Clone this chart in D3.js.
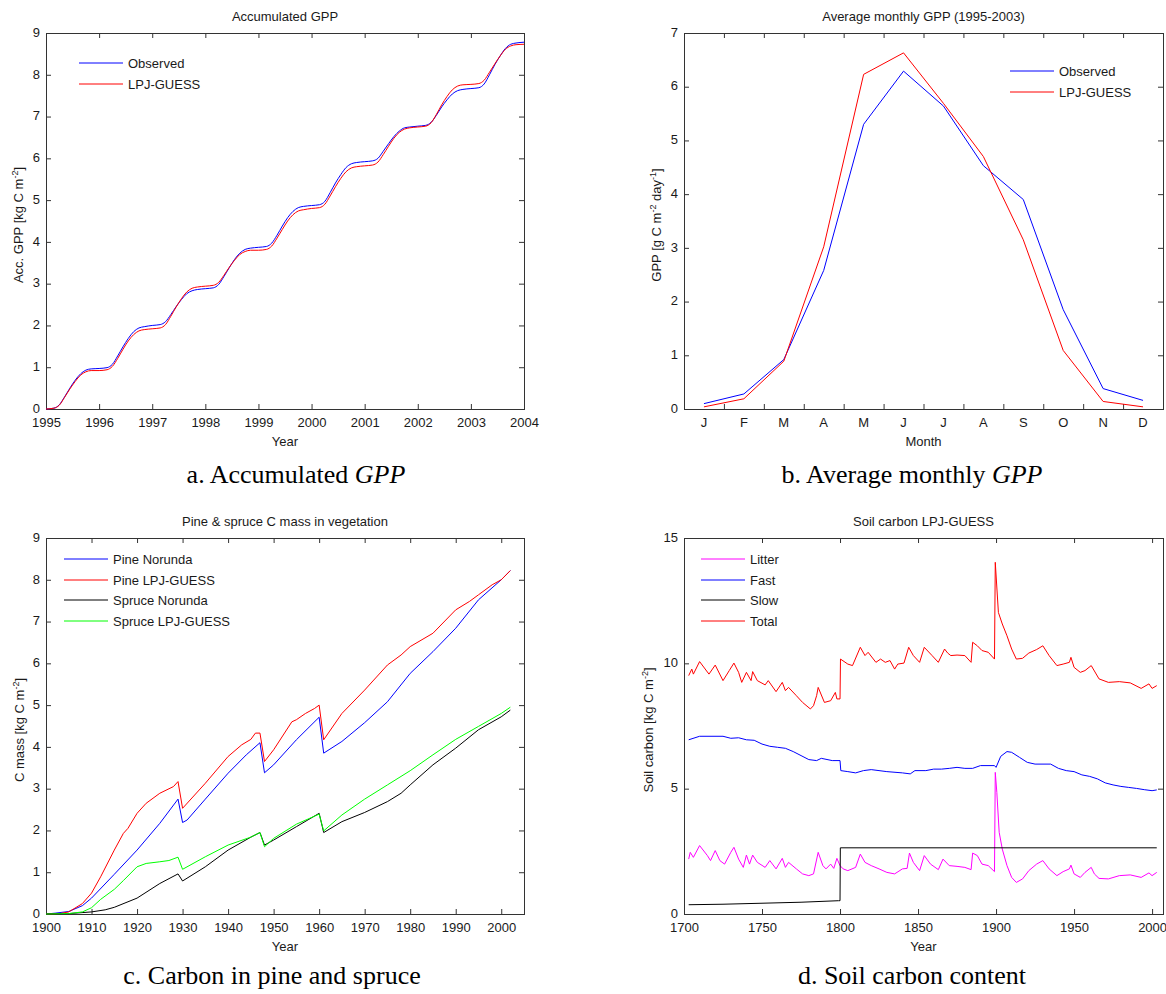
<!DOCTYPE html>
<html><head><meta charset="utf-8">
<script src="https://cdn.jsdelivr.net/npm/d3@7"></script>
<style>
html,body{margin:0;padding:0;background:#fff;}
svg text{font-family:"Liberation Sans",Arial,sans-serif;fill:#1a1a1a;}
svg text.cap{font-family:"Liberation Serif","Times New Roman",serif;fill:#000;}
</style></head>
<body>
<svg id="chart" width="1166" height="994"></svg>
<script>
// ---------- Panel a: Accumulated GPP ----------
const gppYears = [1995,1996,1997,1998,1999,2000,2001,2002,2003];
const gppOffsets = [0,0.15,0.25,0.35,0.45,0.55,0.65,0.75,0.85];
const gppObserved = [
  [0,0.02,0.10,0.29,0.50,0.69,0.84,0.93,0.96],
  [0.97,0.99,1.07,1.27,1.49,1.69,1.85,1.94,1.97],
  [2.0,2.02,2.09,2.26,2.45,2.62,2.76,2.83,2.86],
  [2.88,2.90,2.98,3.17,3.38,3.58,3.73,3.82,3.85],
  [3.87,3.89,3.97,4.16,4.38,4.58,4.73,4.82,4.85],
  [4.87,4.89,4.97,5.18,5.41,5.61,5.78,5.87,5.90],
  [5.92,5.94,6.0,6.17,6.35,6.52,6.65,6.73,6.75],
  [6.77,6.79,6.86,7.03,7.23,7.40,7.54,7.62,7.65],
  [7.67,7.69,7.78,8.0,8.24,8.45,8.63,8.73,8.76]
];
const gppObservedEnd = [2004, 8.78];
const gppModel = [
  [0,0.02,0.09,0.28,0.48,0.66,0.81,0.89,0.92],
  [0.92,0.94,1.02,1.21,1.43,1.63,1.78,1.87,1.90],
  [1.92,1.94,2.02,2.22,2.44,2.64,2.80,2.89,2.92],
  [2.94,2.96,3.03,3.20,3.39,3.56,3.70,3.77,3.80],
  [3.80,3.82,3.90,4.09,4.30,4.50,4.65,4.74,4.77],
  [4.80,4.82,4.90,5.10,5.32,5.52,5.68,5.77,5.80],
  [5.82,5.84,5.91,6.09,6.29,6.48,6.62,6.70,6.73],
  [6.75,6.77,6.85,7.05,7.28,7.48,7.64,7.73,7.76],
  [7.77,7.79,7.87,8.06,8.26,8.45,8.61,8.69,8.72]
];
const gppModelEnd = [2004, 8.73];
const aXTicks = [1995,1996,1997,1998,1999,2000,2001,2002,2003,2004];
const aYTicks = [0,1,2,3,4,5,6,7,8,9];

// ---------- Panel b: Average monthly GPP ----------
const months = ["J","F","M","A","M","J","J","A","S","O","N","D"];
const monthlyObserved = [0.10,0.28,0.92,2.58,5.30,6.29,5.64,4.53,3.90,1.85,0.38,0.16];
const monthlyModel = [0.04,0.19,0.89,3.02,6.23,6.63,5.69,4.70,3.15,1.09,0.14,0.04];
const bYTicks = [0,1,2,3,4,5,6,7];

// ---------- Panel c: Pine & spruce C mass ----------
const pineNorunda = [[1900,0],[1902,0.02],[1905,0.06],[1908,0.2],[1910,0.38],[1915,0.95],[1920,1.53],[1925,2.17],[1929,2.75],[1930,2.19],[1931,2.25],[1935,2.75],[1940,3.37],[1944,3.81],[1947,4.1],[1948,3.38],[1950,3.57],[1955,4.17],[1960,4.71],[1961,3.85],[1965,4.13],[1970,4.58],[1975,5.08],[1980,5.76],[1985,6.28],[1990,6.84],[1995,7.52],[2000,8.0],[2002,8.22]];
const pineModel = [[1900,0],[1903,0.01],[1905,0.05],[1908,0.25],[1910,0.5],[1912,0.89],[1915,1.53],[1917,1.93],[1918,2.05],[1920,2.41],[1922,2.65],[1925,2.89],[1928,3.05],[1929,3.17],[1930,2.53],[1935,3.13],[1940,3.77],[1943,4.05],[1945,4.18],[1946,4.33],[1947,4.33],[1948,3.65],[1950,3.93],[1954,4.6],[1955,4.65],[1957,4.8],[1959,4.92],[1960,5.0],[1961,4.17],[1965,4.8],[1970,5.36],[1972,5.6],[1975,5.96],[1978,6.2],[1980,6.4],[1985,6.72],[1990,7.28],[1993,7.48],[1995,7.64],[1998,7.88],[2000,8.0],[2002,8.22]];
const spruceNorunda = [[1900,0],[1905,0.01],[1910,0.05],[1913,0.1],[1915,0.16],[1920,0.38],[1925,0.73],[1929,0.96],[1930,0.79],[1935,1.13],[1940,1.53],[1945,1.84],[1947,1.95],[1948,1.65],[1950,1.77],[1955,2.09],[1960,2.41],[1961,1.95],[1965,2.21],[1970,2.43],[1975,2.69],[1978,2.89],[1980,3.09],[1985,3.57],[1990,3.97],[1995,4.41],[2000,4.72],[2002,4.88]];
const spruceModel = [[1900,0],[1905,0.01],[1908,0.05],[1910,0.15],[1912,0.35],[1915,0.59],[1917,0.8],[1920,1.13],[1922,1.21],[1925,1.25],[1927,1.28],[1929,1.36],[1930,1.07],[1935,1.37],[1940,1.65],[1945,1.84],[1947,1.95],[1948,1.61],[1950,1.81],[1955,2.15],[1960,2.39],[1961,1.99],[1965,2.37],[1970,2.75],[1975,3.09],[1980,3.43],[1985,3.81],[1990,4.18],[1995,4.49],[2000,4.8],[2002,4.95]];
const cXTicks = [1900,1910,1920,1930,1940,1950,1960,1970,1980,1990,2000];
const cYTicks = [0,1,2,3,4,5,6,7,8,9];

// ---------- Panel d: Soil carbon ----------
const soilTotal = [[1703,9.51],[1705,9.77],[1706,9.57],[1710,10.07],[1716,9.57],[1720,9.93],[1725,9.31],[1729,9.71],[1732,10.01],[1735,9.64],[1737,9.24],[1740,9.64],[1743,9.31],[1744,9.67],[1747,9.31],[1752,9.14],[1754,9.31],[1759,8.87],[1763,9.24],[1765,8.91],[1767,9.04],[1772,8.71],[1776,8.44],[1781,8.18],[1783,8.31],[1785,8.71],[1786,9.04],[1790,8.44],[1794,8.51],[1797,8.84],[1798,8.58],[1800,8.58],[1800.3,10.17],[1805,9.97],[1808,9.91],[1813,10.64],[1816,10.31],[1818,10.44],[1823,10.04],[1826,10.17],[1829,10.04],[1832,10.11],[1835,9.77],[1837,9.97],[1841,10.01],[1844,10.64],[1847,10.31],[1851,10.04],[1854,10.64],[1859,10.31],[1863,10.04],[1867,10.57],[1869,10.41],[1871,10.31],[1875,10.33],[1880,10.31],[1884,10.04],[1885,10.84],[1888,10.7],[1891,10.51],[1895,10.44],[1899,10.17],[1899.5,14.03],[1901.5,12.03],[1904,11.57],[1907,11.1],[1910,10.57],[1913,10.17],[1917,10.2],[1921,10.41],[1926,10.55],[1930,10.7],[1934,10.31],[1939,9.91],[1943,9.97],[1947,10.04],[1948,10.24],[1950,9.84],[1954,9.64],[1957,9.71],[1961,9.91],[1966,9.38],[1972,9.24],[1979,9.27],[1986,9.22],[1993,9.0],[1998,9.18],[2000,9.0],[2003,9.11]];
const soilFast = [[1703,6.95],[1710,7.09],[1725,7.09],[1730,7.01],[1735,7.03],[1740,6.95],[1745,6.93],[1750,6.78],[1755,6.69],[1760,6.65],[1765,6.61],[1770,6.48],[1775,6.32],[1780,6.16],[1785,6.12],[1788,6.21],[1795,6.12],[1800,6.12],[1800.5,5.72],[1805,5.68],[1810,5.63],[1815,5.72],[1820,5.76],[1830,5.68],[1840,5.63],[1845,5.59],[1848,5.72],[1855,5.72],[1860,5.78],[1865,5.78],[1870,5.81],[1875,5.85],[1880,5.81],[1885,5.81],[1890,5.92],[1899,5.92],[1900,5.85],[1903,6.29],[1907,6.48],[1910,6.45],[1915,6.25],[1920,6.05],[1925,5.98],[1935,5.98],[1940,5.81],[1945,5.72],[1950,5.68],[1955,5.55],[1960,5.49],[1965,5.39],[1970,5.23],[1975,5.15],[1980,5.09],[1985,5.05],[1990,5.01],[1995,4.96],[2000,4.92],[2003,4.95]];
const soilSlow = [[1703,0.37],[1725,0.39],[1750,0.43],[1775,0.47],[1799,0.53],[1800,0.53],[1800.2,2.64],[2003,2.64]];
const soilLitter = [[1703,2.19],[1704,2.46],[1706,2.26],[1710,2.73],[1715,2.33],[1717,2.13],[1720,2.53],[1723,2.13],[1726,1.99],[1730,2.46],[1732,2.66],[1735,2.19],[1738,1.86],[1740,2.35],[1742,1.99],[1744,2.35],[1747,2.06],[1752,1.86],[1755,2.13],[1759,1.8],[1763,2.22],[1765,1.86],[1767,2.06],[1772,1.8],[1776,1.6],[1780,1.53],[1783,1.6],[1786,2.46],[1789,1.93],[1791,1.8],[1794,1.99],[1796,1.82],[1798,2.22],[1800,1.93],[1802,1.8],[1805,1.73],[1810,1.86],[1813,2.39],[1816,2.06],[1820,1.93],[1825,1.8],[1830,1.66],[1835,1.6],[1840,1.8],[1843,1.82],[1844.5,2.43],[1847,2.06],[1851,1.73],[1854,2.33],[1858,1.99],[1863,1.77],[1866,2.19],[1870,1.93],[1875,1.9],[1880,1.86],[1884,1.77],[1885,2.43],[1888,2.33],[1891,1.99],[1895,1.93],[1899,1.69],[1899.5,5.65],[1900.5,4.85],[1902,3.26],[1904,2.59],[1907,1.93],[1910,1.46],[1913,1.26],[1917,1.4],[1921,1.73],[1926,1.99],[1930,2.13],[1934,1.8],[1939,1.53],[1943,1.69],[1947,1.8],[1948,1.95],[1950,1.6],[1954,1.46],[1957,1.66],[1961,1.86],[1963,1.6],[1966,1.42],[1972,1.4],[1979,1.53],[1986,1.56],[1993,1.46],[1998,1.64],[2000,1.53],[2003,1.66]];
const dXTicks = [1700,1750,1800,1850,1900,1950,2000];
const dYTicks = [0,5,10,15];

// ---------- drawing ----------
const svg = d3.select("#chart");
const AX = "#333";

function panel(box, xDomain, yDomain, opts) {
  const x = d3.scaleLinear().domain(xDomain).range([box.x0, box.x1]);
  const y = d3.scaleLinear().domain(yDomain).range([box.y1, box.y0]);
  const g = svg.append("g");
  const axStyle = sel => {
    sel.select(".domain").remove();
    sel.selectAll("line").attr("stroke", AX);
    sel.selectAll("text").attr("font-size", 13).attr("fill", "#1a1a1a")
       .attr("font-family", "Liberation Sans, Arial, sans-serif");
  };
  const xt = opts.xTickPos || opts.xTicks;
  g.append("g").attr("transform", `translate(0,${box.y1})`)
    .call(d3.axisBottom(x).tickValues(xt).tickSize(-5).tickPadding(9)
      .tickFormat(opts.xTickPos ? "" : d3.format("d"))).call(axStyle);
  g.append("g").attr("transform", `translate(0,${box.y0})`)
    .call(d3.axisTop(x).tickValues(xt).tickSize(-5).tickFormat("")).call(axStyle);
  const yl0 = g.append("g").attr("transform", `translate(${box.x0},0)`)
    .call(d3.axisLeft(y).tickValues(opts.yTicks).tickSize(-5).tickPadding(6).tickFormat(d3.format("d"))).call(axStyle);
  yl0.selectAll("text").attr("dy", "0.25em");
  g.append("g").attr("transform", `translate(${box.x1},0)`)
    .call(d3.axisRight(y).tickValues(opts.yTicks).tickSize(-5).tickFormat("")).call(axStyle);
  g.append("rect").attr("x", box.x0 + 0.5).attr("y", box.y0 + 0.5)
    .attr("width", box.x1 - box.x0).attr("height", box.y1 - box.y0)
    .attr("fill", "none").attr("stroke", AX).attr("stroke-width", 1);
  // title
  g.append("text").attr("x", (box.x0 + box.x1) / 2).attr("y", box.y0 - 12)
    .attr("text-anchor", "middle").attr("font-size", 13).text(opts.title);
  // x label
  g.append("text").attr("x", (box.x0 + box.x1) / 2).attr("y", box.y1 + 37)
    .attr("text-anchor", "middle").attr("font-size", 13).text(opts.xLabel);
  // y label with superscripts
  const yl = g.append("text").attr("text-anchor", "middle").attr("font-size", 13)
    .attr("transform", `translate(${opts.yLabelX},${(box.y0 + box.y1) / 2 + 4}) rotate(-90)`);
  opts.yLabel.forEach(p => {
    if (p.sup) {
      yl.append("tspan").attr("dy", -5).attr("font-size", 9).text(p.sup);
      yl.append("tspan").attr("dy", 5).text(p.after);
    } else yl.append("tspan").text(p.t);
  });
  return {x, y, g};
}

function legend(g, x0, ys, items) {
  items.forEach((it, i) => {
    g.append("line").attr("x1", x0).attr("x2", x0 + 44).attr("y1", ys[i]).attr("y2", ys[i])
      .attr("stroke", it.color).attr("stroke-width", 1);
    g.append("text").attr("x", x0 + 49).attr("y", ys[i] + 5).attr("font-size", 13).text(it.label);
  });
}

function caption(x, y, parts) {
  const t = svg.append("text").attr("class", "cap").attr("x", x).attr("y", y)
    .attr("text-anchor", "middle").attr("font-size", 26);
  parts.forEach(p => t.append("tspan").attr("font-style", p.i ? "italic" : "normal").text(p.t));
}

function drawLine(p, data, color, curve) {
  p.g.append("path").datum(data)
    .attr("d", d3.line().x(d => p.x(d[0])).y(d => p.y(d[1])).curve(curve || d3.curveLinear))
    .attr("fill", "none").attr("stroke", color).attr("stroke-width", 1);
}

// Panel a
const pa = panel({x0:46, x1:524, y0:33, y1:409}, [1995, 2004], [0, 9], {
  xTicks: aXTicks, yTicks: aYTicks, title: "Accumulated GPP", xLabel: "Year",
  yLabelX: 23, yLabel: [{t: "Acc. GPP [kg C m"}, {sup: "-2", after: "]"}]
});
function stepSeries(vals, end) {
  const out = [];
  gppYears.forEach((yr, i) => gppOffsets.forEach((o, j) => out.push([yr + o, vals[i][j]])));
  out.push(end);
  return out;
}
drawLine(pa, stepSeries(gppObserved, gppObservedEnd), "#0000ff", d3.curveMonotoneX);
drawLine(pa, stepSeries(gppModel, gppModelEnd), "#ff0000", d3.curveMonotoneX);
legend(pa.g, 79, [63, 84], [{color:"#0000ff", label:"Observed"}, {color:"#ff0000", label:"LPJ-GUESS"}]);

// Panel b
const pb = panel({x0:684, x1:1163, y0:33, y1:409}, [0.5, 12.5], [0, 7], {
  xTicks: d3.range(1, 13), xTickPos: d3.range(1.5, 12, 1), yTicks: bYTicks,
  title: "Average monthly GPP (1995-2003)", xLabel: "Month",
  yLabelX: 661, yLabel: [{t: "GPP [g C m"}, {sup: "-2", after: " day"}, {sup: "-1", after: "]"}]
});
months.forEach((m, i) => {
  pb.g.append("text").attr("x", pb.x(i + 1)).attr("y", 427).attr("text-anchor", "middle")
    .attr("font-size", 13).text(m);
});
drawLine(pb, monthlyObserved.map((v, i) => [i + 1, v]), "#0000ff");
drawLine(pb, monthlyModel.map((v, i) => [i + 1, v]), "#ff0000");
legend(pb.g, 1010, [71, 92], [{color:"#0000ff", label:"Observed"}, {color:"#ff0000", label:"LPJ-GUESS"}]);

// Panel c
const pc = panel({x0:46, x1:524, y0:538, y1:914}, [1900, 2005], [0, 9], {
  xTicks: cXTicks, yTicks: cYTicks, title: "Pine & spruce C mass in vegetation", xLabel: "Year",
  yLabelX: 24, yLabel: [{t: "C mass [kg C m"}, {sup: "-2", after: "]"}]
});
drawLine(pc, pineNorunda, "#0000ff");
drawLine(pc, pineModel, "#ff0000");
drawLine(pc, spruceNorunda, "#000000");
drawLine(pc, spruceModel, "#00ff00");
legend(pc.g, 64, [559, 580, 600, 621], [
  {color:"#0000ff", label:"Pine Norunda"}, {color:"#ff0000", label:"Pine LPJ-GUESS"},
  {color:"#000000", label:"Spruce Norunda"}, {color:"#00ff00", label:"Spruce LPJ-GUESS"}]);

// Panel d
const pd = panel({x0:684, x1:1163, y0:538, y1:914}, [1700, 2007], [0, 15], {
  xTicks: dXTicks, yTicks: dYTicks, title: "Soil carbon LPJ-GUESS", xLabel: "Year",
  yLabelX: 653, yLabel: [{t: "Soil carbon [kg C m"}, {sup: "-2", after: "]"}]
});
drawLine(pd, soilLitter, "#ff00ff");
drawLine(pd, soilFast, "#0000ff");
drawLine(pd, soilSlow, "#000000");
drawLine(pd, soilTotal, "#ff0000");
legend(pd.g, 701, [559, 580, 600, 621], [
  {color:"#ff00ff", label:"Litter"}, {color:"#0000ff", label:"Fast"},
  {color:"#000000", label:"Slow"}, {color:"#ff0000", label:"Total"}]);

// captions
caption(296, 483, [{t: "a. Accumulated "}, {t: "GPP", i: true}]);
caption(912, 483, [{t: "b. Average monthly "}, {t: "GPP", i: true}]);
caption(272, 984, [{t: "c. Carbon in pine and spruce"}]);
caption(912, 984, [{t: "d. Soil carbon content"}]);
</script>
</body></html>
